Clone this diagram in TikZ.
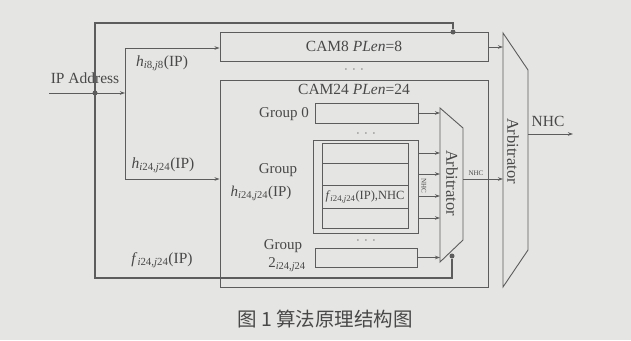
\documentclass[tikz,border=0pt]{standalone}
\usepackage{fontspec}
\setmainfont{Liberation Serif}
\newfontfamily\cjk{Noto Sans CJK SC}
\usetikzlibrary{arrows.meta}
\definecolor{bg}{RGB}{229,229,227}
\definecolor{ln}{RGB}{92,92,92}
\definecolor{tx}{RGB}{72,72,72}
\begin{document}
\begin{tikzpicture}[x=1pt,y=-1pt,
  box/.style={draw=ln, line width=0.9pt, inner sep=0pt, text=tx},
  arr/.style={draw=ln, line width=0.9pt, -{Stealth[length=5pt,width=3.5pt]}},
  wire/.style={draw=ln, line width=1.4pt},
  lbl/.style={text=tx, font=\fontsize{15.5}{17}\selectfont, inner sep=0pt},
  slbl/.style={text=tx, font=\fontsize{15}{17}\selectfont, inner sep=0pt},
  alb/.style={text=tx, font=\fontsize{16.5}{18}\selectfont, inner sep=0pt},
  tiny/.style={text=tx, font=\fontsize{7}{8}\selectfont, inner sep=0pt},
  dotn/.style={circle, fill=ln, inner sep=0pt, minimum size=5pt},
  ellip/.style={text=tx, font=\fontsize{13}{13}\selectfont, inner sep=0pt}]
\fill[bg] (0,0) rectangle (631,340);
\useasboundingbox (0,0) rectangle (631,340);

% CAM boxes
\node[box, minimum width=268pt, minimum height=29pt, font=\fontsize{15.5}{17}\selectfont] (cam8) at (354,46.5) {CAM8 \textit{PLen}=8};
\node[ellip] (dots1) at (354,70) {$\cdot\,\cdot\,\cdot$};
\node[box, minimum width=268pt, minimum height=207pt] (cam24) at (354,183.5) {};
\node[lbl] (cam24t) at (354,89) {CAM24 \textit{PLen}=24};

% groups
\node[slbl] (g0l) at (284,114) {Group 0};
\node[box, minimum width=103pt, minimum height=20pt] (g0) at (366.5,113) {};
\node[ellip] (dots2) at (366,134) {$\cdot\,\cdot\,\cdot$};
\node[box, minimum width=105pt, minimum height=93pt] (blk) at (365.5,186.5) {};
\node[box, minimum width=86pt, minimum height=85pt] (blki) at (365,185.5) {};
\draw[draw=ln, line width=0.8pt] (322,163) -- (408,163) (322,185) -- (408,185) (322,208) -- (408,208);
\node[text=tx, font=\fontsize{12.5}{14}\selectfont, inner sep=0pt] (fl) at (365,197) {\textit{f}\textsubscript{\textit{i}24,\textit{j}24}(IP),NHC};
\node[slbl] (gbl1) at (278,170) {Group};
\node[slbl] (gbl2) at (261,193) {\textit{h}\textsubscript{\textit{i}24,\textit{j}24}(IP)};
\node[ellip] (dots3) at (366,241) {$\cdot\,\cdot\,\cdot$};
\node[box, minimum width=102pt, minimum height=19pt] (g2) at (366,257.5) {};
\node[slbl] (g2l1) at (283,246) {Group};
\node[slbl] (g2l2) at (287,265) {2\textsubscript{\textit{i}24,\textit{j}24}};

% small arbitrator
\coordinate (sa1) at (440,108);
\coordinate (sa2) at (463,128);
\coordinate (sa3) at (463,240);
\coordinate (sa4) at (440,262);
\draw[draw=ln, line width=0.9pt] (sa1) -- (sa2) -- (sa3) -- (sa4) -- cycle;
\node[alb, rotate=-90] (sat) at (452,183) {Arbitrator};

% big arbitrator
\coordinate (ba1) at (503,33);
\coordinate (ba2) at (528,70);
\coordinate (ba3) at (528,250);
\coordinate (ba4) at (503,287);
\draw[draw=ln, line width=0.9pt] (ba1) -- (ba2) -- (ba3) -- (ba4) -- cycle;
\node[alb, rotate=-90] (bat) at (513,151) {Arbitrator};

% IP address input
\node[lbl] (ipl) at (85,78) {IP Address};
\coordinate (ipin) at (49,93);
\coordinate (ipj) at (125,93);
\coordinate (vt) at (125,48);
\coordinate (vb) at (125,179);
\draw[arr] (ipin) -- (ipj);
\node[dotn] (d1) at (95,93) {};
\draw[draw=ln, line width=1pt] (vt) -- (vb);
\draw[arr] (vt) -- (cam8.west |- vt);
\draw[arr] (vb) -- (cam24.west |- vb);
\node[lbl] (h8) at (162,63) {\textit{h}\textsubscript{\textit{i}8,\textit{j}8}(IP)};
\node[lbl] (h24) at (163,165) {\textit{h}\textsubscript{\textit{i}24,\textit{j}24}(IP)};
\node[lbl] (f24) at (162,260) {\textit{f}\textsubscript{\textit{i}24,\textit{j}24}(IP)};

% outer loop
\node[dotn] (dtop) at (453,32) {};
\node[dotn] (dbot) at (452,256) {};
\draw[wire] (dtop) -- (453,23) -- (95,23) -- (95,278) -- (452,278) -- (dbot);

% group arrows
\draw[arr] (g0.east) -- (g0.east -| sa1);
\foreach \yy in {153,174,196,218} \draw[arr] (blk.east |- 0,\yy) -- (sa1 |- 0,\yy);
\draw[arr] (g2.east) -- (g2.east -| sa1);
\node[tiny, rotate=-90] (nhcv) at (424,186) {NHC};

% arbitrator connections
\draw[arr] (cam8.east |- 0,47) -- (ba1 |- 0,47);
\draw[arr] (sa2 |- 0,179) -- (ba1 |- 0,179);
\node[tiny] (nhcs) at (476,173) {NHC};
\coordinate (out) at (573,134);
\draw[arr] (ba2 |- out) -- (out);
\node[lbl] (nhcb) at (548,121) {NHC};

% caption
\node[text=tx, font=\cjk\fontsize{19.5}{21}\selectfont, inner sep=0pt] (cap) at (325,319) {图 1 算法原理结构图};
\end{tikzpicture}
\end{document}
